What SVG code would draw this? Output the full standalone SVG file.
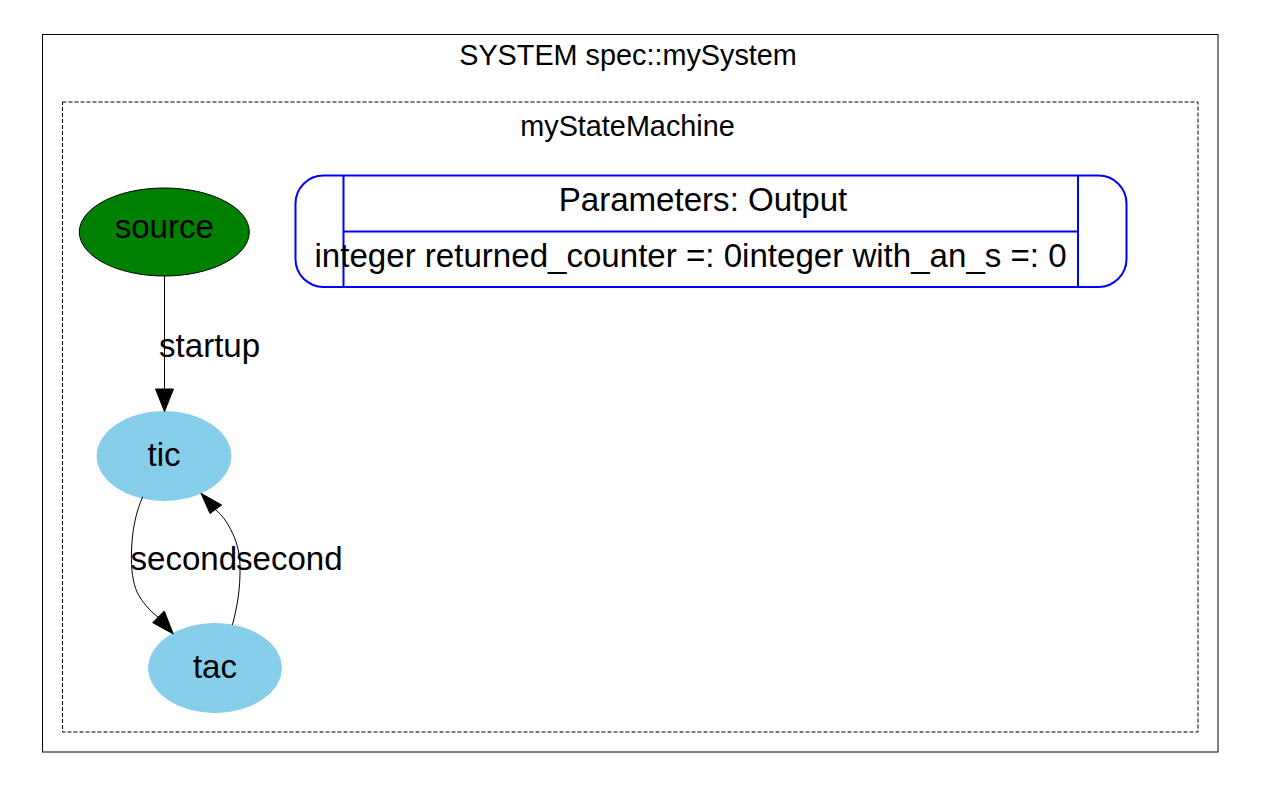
<svg xmlns="http://www.w3.org/2000/svg" width="1263" height="797" viewBox="0 0 1263 797">
<style>
text{font-family:"Liberation Sans",Arial,sans-serif;fill:#000}
.big{font-size:33.1px}
.cl{font-size:28.8px}
.edge{fill:none;stroke:#000;stroke-width:1}
.head{fill:#000;stroke:#000;stroke-width:1}
.state{fill:#87ceeb;stroke:#87ceeb}
</style>
<rect x="0" y="0" width="1263" height="797" fill="#fff"/>
<g id="cluster_system">
<rect x="42.5" y="34.5" width="1175.5" height="717.5" fill="none" stroke="#000" stroke-width="1"/>
<text class="cl" x="628" y="65" text-anchor="middle">SYSTEM spec::mySystem</text>
</g>
<g id="cluster_mySM">
<rect x="62.5" y="102" width="1135.5" height="630" fill="none" stroke="#000" stroke-width="1" stroke-dasharray="4,2"/>
<text class="cl" x="627.5" y="136" text-anchor="middle">myStateMachine</text>
</g>
<g id="params">
<rect x="295.5" y="175.5" width="831" height="111.5" rx="28" ry="28" fill="none" stroke="#0000ff" stroke-width="2"/>
<line x1="343.5" y1="175.5" x2="343.5" y2="287" stroke="#0000ff" stroke-width="2"/>
<line x1="1078" y1="175.5" x2="1078" y2="287" stroke="#0000ff" stroke-width="2"/>
<line x1="343.5" y1="231.5" x2="1078" y2="231.5" stroke="#0000ff" stroke-width="2"/>
<text class="big" x="703" y="211" text-anchor="middle">Parameters: Output</text>
<text class="big" x="314.5" y="267">integer returned_counter =: 0integer with_an_s =: 0</text>
</g>
<g id="source">
<ellipse cx="164.3" cy="232" rx="85" ry="44" fill="#008000" stroke="#000" stroke-width="1"/>
<text class="big" x="164.3" y="238" text-anchor="middle">source</text>
</g>
<g id="tic">
<ellipse class="state" cx="164" cy="456" rx="67" ry="44.5"/>
<text class="big" x="164" y="466" text-anchor="middle">tic</text>
</g>
<g id="tac">
<ellipse class="state" cx="215" cy="668" rx="66.5" ry="44.5"/>
<text class="big" x="215" y="678" text-anchor="middle">tac</text>
</g>
<g id="edges">
<g id="e_startup">
<path class="edge" d="M164.5,276 L164.5,389"/>
<polygon class="head" points="155.5,389 173.5,389 164.5,411.5"/>
<text class="big" x="159" y="357">startup</text>
</g>
<g id="e_tic_tac">
<path class="edge" d="M142.7,496.7 C136,512 132,530 131.5,552 C131,570 133,583 137,592 C142,602 150,611 158,617"/>
<polygon class="head" points="152.7,622.7 164.3,611 173.3,634"/>
<text class="big" x="130.5" y="570">second</text>
</g>
<g id="e_tac_tic">
<path class="edge" d="M232.3,625 C237,608 240.5,590 240,565 C239.5,550 236,540 231,530 C227,522 222,515 216,510"/>
<polygon class="head" points="210,513.5 221.7,505 201,493.3"/>
<text class="big" x="236" y="570">second</text>
</g>
</g>
</svg>
